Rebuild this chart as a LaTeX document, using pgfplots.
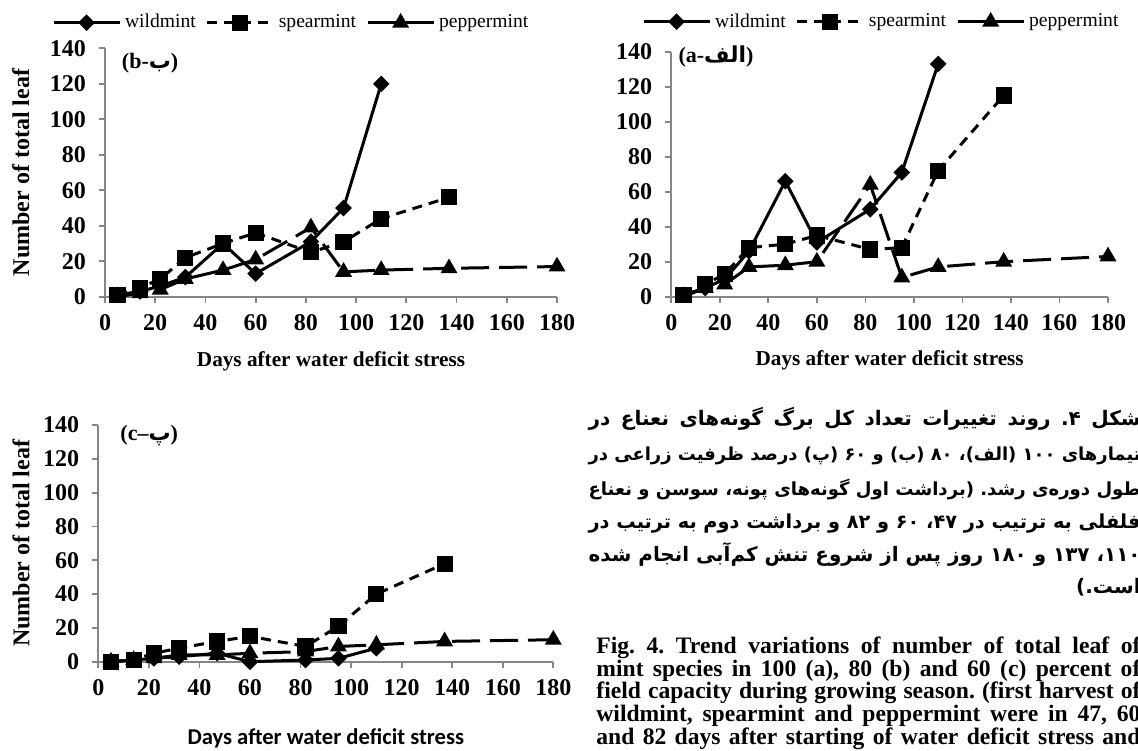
\documentclass[border=0pt]{standalone}
\usepackage{fontspec}
\usepackage{graphicx}
\usepackage{pgfplots}
\pgfplotsset{compat=1.18}
\setmainfont{Liberation Serif}
\newfontfamily\carlito{Carlito}
\newfontfamily\arabicfont[Script=Arabic]{DejaVu Sans}
\TeXXeTstate=1
\frenchspacing
\definecolor{axgray}{HTML}{868686}

\newsavebox\plinebox
\newcommand\pline[1]{\sbox\plinebox{\beginR #1\endR}%
  \ifdim\wd\plinebox>276pt \resizebox{276pt}{!}{\usebox\plinebox}%
  \else\makebox[276pt][s]{\beginR #1\endR}\fi}

\pgfplotsset{
  legend image code/.code={\draw[mark repeat=2,mark phase=2,#1] plot coordinates {(0pt,0pt) (16.5pt,0pt) (33pt,0pt)};},
  mint/.style={
    scale only axis,
    xmin=0, xmax=180, ymin=0, ymax=140,
    xtick={0,20,...,180}, ytick={0,20,...,140},
    axis x line*=bottom, axis y line*=left,
    axis line style={draw=axgray, line width=0.9pt, -},
    every tick/.style={draw=axgray, line width=0.9pt},
    tick align=outside, major tick length=3pt,
    clip=false,
    /pgf/number format/assume math mode=true,
    tick label style={font=\bfseries\fontsize{12}{12}\selectfont},
    xticklabel style={yshift=-2.5pt},
    yticklabel style={xshift=-3pt},
    xlabel style={font=\bfseries\fontsize{10.6}{12}\selectfont},
    ylabel style={font=\bfseries\fontsize{12}{12}\selectfont},
    legend style={draw=none, fill=none, anchor=west, inner sep=0pt,
      font=\fontsize{9.8}{10}\selectfont,
      /tikz/every even column/.append style={column sep=3pt}},
    legend columns=3,
  },
  wild/.style={black, line width=1.5pt, mark=square*, mark size=2.2pt, mark options={rotate=45, solid}},
  spear/.style={black, line width=1.5pt, dash pattern=on 5pt off 3.5pt, mark=square*, mark size=3.3pt, mark options={solid}},
  pepper/.style={black, line width=1.5pt, dash pattern=on 14pt off 5pt, mark=triangle*, mark size=3.4pt, mark options={solid}},
}

\begin{document}
\begin{tikzpicture}
\useasboundingbox (0,0) rectangle (569pt,375pt);
\clip (0,0) rectangle (569pt,375pt);

% ---------- chart (b) top left ----------
\begin{axis}[mint,
  width=226pt, height=124.15pt,
  at={(52.5pt,226.65pt)}, anchor=south west,
  ylabel={Number of total leaf},
  xlabel={Days after water deficit stress},
  ylabel style={at={(axis description cs:-0.186,0.5)}, anchor=center},
  xlabel style={at={(axis description cs:0.5,-0.262)}, anchor=center},
  legend style={at={(axis description cs:-0.118,1.1035)}},
]
\addplot[wild] coordinates {(5,1)(14,3)(22,6)(32,11)(47,30)(60,13)(82,31)(95,50)(110,120)};
\addlegendentry{wildmint}
\addplot[spear] coordinates {(5,1)(14,5)(22,10)(32,22)(47,30)(60,36)(82,25)(95,31)(110,44)(137,56)};
\addlegendentry{spearmint}
\addplot[pepper] coordinates {(5,0)(14,2)(22,4)(32,10)(47,15)(60,21)(82,39)(95,14)(110,15)(137,16)(180,17)};
\addlegendentry{peppermint}
\node[anchor=west, inner sep=0pt, font=\bfseries\fontsize{11}{12}\selectfont] at (axis cs:6.6,131.7) {(b-{\arabicfont ب})};
\end{axis}

% ---------- chart (a) top right ----------
\begin{axis}[mint,
  width=218.35pt, height=122.5pt,
  at={(335.65pt,226.65pt)}, anchor=south west,
  xlabel={Days after water deficit stress},
  xlabel style={at={(axis description cs:0.5,-0.258)}, anchor=center},
  legend style={at={(axis description cs:-0.0678,1.1224)}},
]
\addplot[wild] coordinates {(5,1)(14,5)(22,10)(32,26)(47,66)(60,31)(82,50)(95,71)(110,133)};
\addlegendentry{wildmint}
\addplot[spear] coordinates {(5,1)(14,7)(22,13)(32,28)(47,30)(60,35)(82,27)(95,28)(110,72)(137,115)};
\addlegendentry{spearmint}
\addplot[pepper] coordinates {(5,0)(14,5)(22,7)(32,17)(47,18)(60,20)(82,64)(95,11)(110,17)(137,20)(180,23)};
\addlegendentry{peppermint}
\node[anchor=west, inner sep=0pt, font=\bfseries\fontsize{11}{12}\selectfont] at (axis cs:2.8,137.1) {(a-{\arabicfont الف})};
\end{axis}

% ---------- chart (c) bottom left ----------
\begin{axis}[mint,
  width=227.5pt, height=118.35pt,
  at={(49.15pt,44.15pt)}, anchor=south west,
  ylabel={Number of total leaf},
  xlabel={Days after water deficit stress},
  ylabel style={at={(axis description cs:-0.17,0.5)}, anchor=center},
  xlabel style={at={(axis description cs:0.5,-0.322)}, anchor=center, font=\carlito\bfseries\fontsize{11.3}{12}\selectfont},
]
\addplot[wild] coordinates {(5,0)(14,1)(22,2)(32,3)(47,5)(60,0)(82,1)(95,2)(110,8)};
\addplot[spear] coordinates {(5,0)(14,1)(22,5)(32,8)(47,12)(60,15)(82,9)(95,21)(110,40)(137,58)};
\addplot[pepper] coordinates {(5,0)(14,1)(22,2)(32,4)(47,4)(60,5)(82,6)(95,9)(110,10)(137,12)(180,13)};
\node[anchor=west, inner sep=0pt, font=\bfseries\fontsize{11}{12}\selectfont] at (axis cs:8.6,134) {(c--{\arabicfont پ})};
\end{axis}

% ---------- Persian caption ----------
\begin{scope}[every node/.style={inner sep=0pt, font=\arabicfont\bfseries\fontsize{10}{10}\selectfont}]
\node[anchor=base east] at (570.5pt,162.3pt) {\pline{شکل ۴. روند تغییرات تعداد کل برگ گونه‌های نعناع در}};
\node[anchor=base east] at (570.5pt,144.8pt) {\pline{تیمارهای ۱۰۰ (الف)، ۸۰ (ب) و ۶۰ (پ) درصد ظرفیت زراعی در}};
\node[anchor=base east] at (570.5pt,127.3pt) {\pline{طول دوره‌ی رشد. (برداشت اول گونه‌های پونه، سوسن و نعناع}};
\node[anchor=base east] at (570.5pt,110.8pt) {\pline{فلفلی به ترتیب در ۴۷، ۶۰ و ۸۲ و برداشت دوم به ترتیب در}};
\node[anchor=base east] at (570.5pt,94.3pt) {\pline{۱۱۰، ۱۳۷ و ۱۸۰ روز پس از شروع تنش کم‌آبی انجام شده}};
\node[anchor=base east] at (570.5pt,78.3pt) {\beginR است.)\endR};
\end{scope}

% ---------- English caption ----------
\begin{scope}[every node/.style={inner sep=0pt, anchor=base west, font=\bfseries\fontsize{11.8}{12}\selectfont}]
\node at (298pt,48.3pt) {\makebox[272pt][s]{Fig. 4. Trend variations of number of total leaf of}};
\node at (298pt,37.0pt) {\makebox[272pt][s]{mint species in 100 (a), 80 (b) and 60 (c) percent of}};
\node at (298pt,25.6pt) {\makebox[272pt][s]{field capacity during growing season. (first harvest of}};
\node at (298pt,14.2pt) {\makebox[272pt][s]{wildmint, spearmint and peppermint were in 47, 60}};
\node at (298pt,2.8pt) {\makebox[272pt][s]{and 82 days after starting of water deficit stress and}};
\end{scope}
\end{tikzpicture}
\end{document}
